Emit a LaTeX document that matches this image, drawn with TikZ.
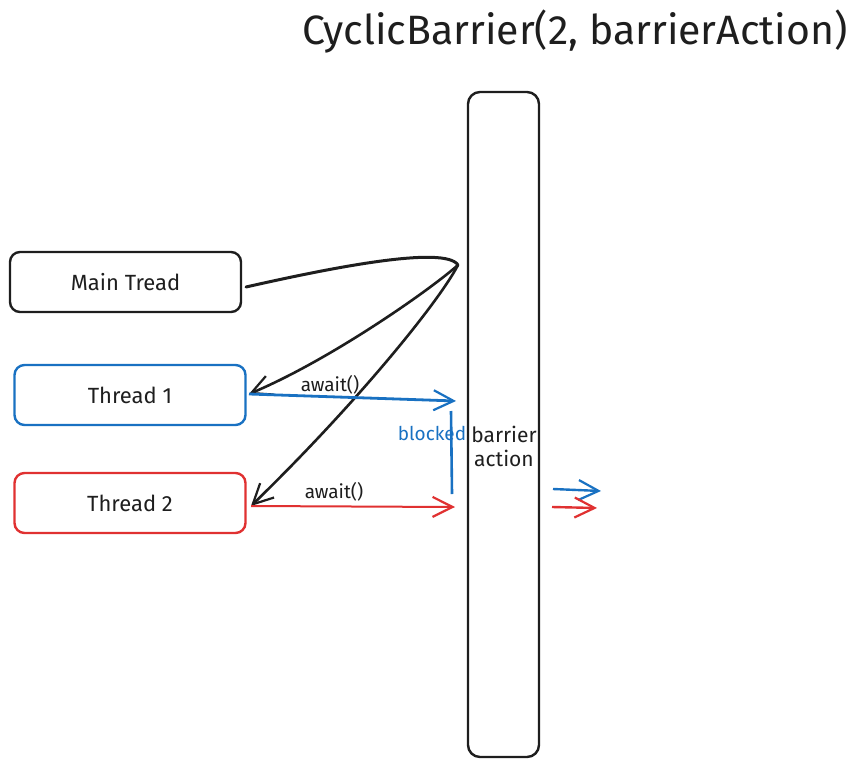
\documentclass[tikz,border=0pt]{standalone}
\usepackage{fontspec}
\setmainfont{Fira Sans}
\usetikzlibrary{arrows.meta}
\definecolor{ink}{HTML}{1E1E1E}
\definecolor{exblue}{HTML}{1971C2}
\definecolor{exred}{HTML}{E03131}
\tikzset{
  threadbox/.style={draw, line width=2.4pt, rounded corners=10pt, minimum width=231pt, minimum height=60pt, inner sep=0pt, font=\fontsize{22}{26}\selectfont, text=ink},
  barb/.style={-{Straight Barb[length=20pt,width=20pt,line width=2.2pt]}},
  lbl/.style={font=\fontsize{19}{22}\selectfont, text=ink, inner sep=1pt},
}
\begin{document}
\begin{tikzpicture}[x=1pt,y=-1pt]
\useasboundingbox (0,0) rectangle (861,768);
% title
\node[font=\fontsize{41}{46}\selectfont, text=ink, anchor=center] (title) at (575,32) {CyclicBarrier(2, barrierAction)};
% barrier column
\node[draw=ink, line width=2.4pt, rounded corners=12pt, minimum width=71pt, minimum height=665pt, inner sep=0pt] (bar) at (503.5,424.5) {};
\node[font=\fontsize{21}{24}\selectfont, text=ink, align=center, inner sep=0pt] (bact) at (504,446) {barrier\\action};
% thread boxes
\node[threadbox, draw=ink] (main) at (125.5,282) {Main Tread};
\node[threadbox, draw=exblue] (t1) at (130,395) {Thread 1};
\node[threadbox, draw=exred] (t2) at (130,503) {Thread 2};
% main thread curve
\coordinate (apex) at (458,265);
\coordinate (m0) at (246,287);
\coordinate (t1e) at (249,394);
\coordinate (t2e) at (251,506);
\draw[ink, line width=3pt, line cap=round] (m0) .. controls (330,268) and (445,245) .. (apex);
\draw[ink, line width=2.6pt, barb] (apex) .. controls (430,290) and (330,360) .. (t1e);
\draw[ink, line width=2.6pt, barb] (apex) .. controls (440,300) and (360,400) .. (t2e);
% await arrows
\coordinate (a1) at (456,401);
\coordinate (a2) at (455,507);
\draw[exblue, line width=2.8pt, barb] (t1e) -- (a1);
\draw[exred, line width=2pt, barb] (t2e) -- (a2);
\node[lbl] (aw1) at (330,385) {await()};
\node[lbl] (aw2) at (334,492) {await()};
% blocked
\coordinate (b0) at (451,411);
\coordinate (b1) at (452,494);
\draw[exblue, line width=2.6pt] (b0) -- (b1);
\node[font=\fontsize{19}{22}\selectfont, text=exblue, inner sep=0pt] (blk) at (432,433) {blocked};
% outgoing arrows
\coordinate (o1s) at (553,489);
\coordinate (o1e) at (601,491);
\coordinate (o2s) at (552,507);
\coordinate (o2e) at (597,508);
\draw[exblue, line width=2.4pt, barb] (o1s) -- (o1e);
\draw[exred, line width=2.4pt, barb] (o2s) -- (o2e);
\end{tikzpicture}
\end{document}
